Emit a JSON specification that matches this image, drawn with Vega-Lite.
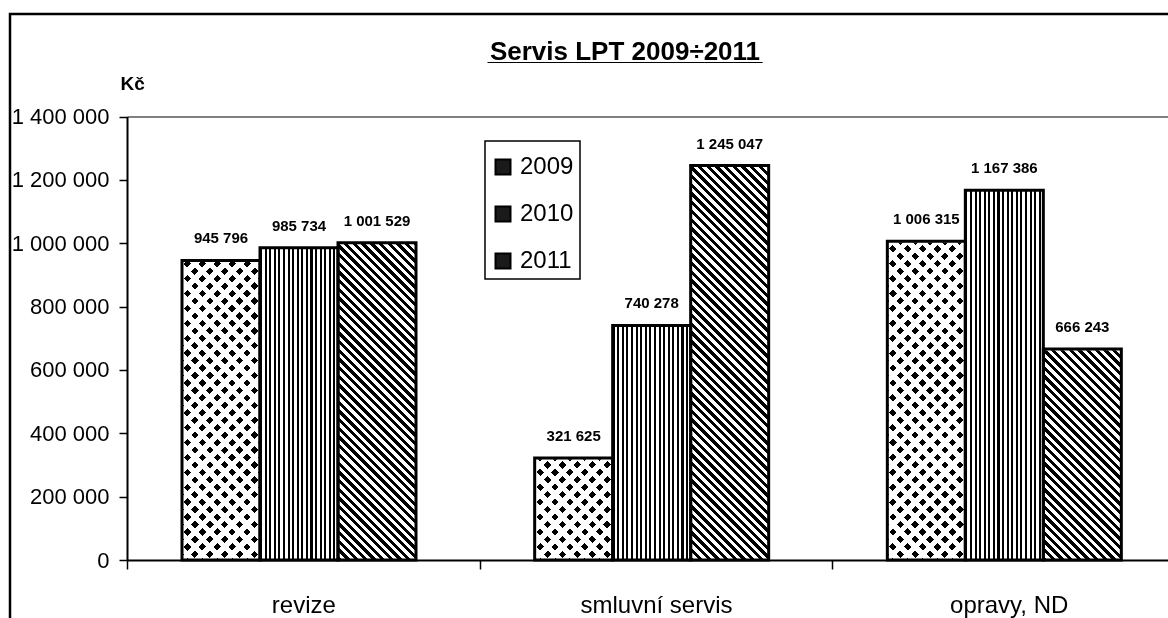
{
  "$schema": "https://vega.github.io/schema/vega-lite/v6.json",
  "width": 1170,
  "height": 611,
  "autosize": {"type": "none"},
  "padding": {"left": 10, "top": 14, "right": 0, "bottom": 0},
  "background": "white",
  "title": {
    "text": "Servis LPT 2009÷2011",
    "subtitle": "___________________",
    "font": "Liberation Sans",
    "fontSize": 26,
    "fontWeight": "bold",
    "color": "black",
    "subtitleFont": "Liberation Sans",
    "subtitleFontSize": 26,
    "subtitleFontWeight": "bold",
    "subtitleColor": "black",
    "subtitlePadding": -26,
    "anchor": "middle",
    "frame": "group",
    "offset": 0,
    "dx": 30,
    "dy": 51
  },
  "data": {
    "values": [
      {"cat": "revize", "year": "2009", "value": 945796},
      {"cat": "revize", "year": "2010", "value": 985734},
      {"cat": "revize", "year": "2011", "value": 1001529},
      {"cat": "smluvní servis", "year": "2009", "value": 321625},
      {"cat": "smluvní servis", "year": "2010", "value": 740278},
      {"cat": "smluvní servis", "year": "2011", "value": 1245047},
      {"cat": "opravy, ND", "year": "2009", "value": 1006315},
      {"cat": "opravy, ND", "year": "2010", "value": 1167386},
      {"cat": "opravy, ND", "year": "2011", "value": 666243}
    ]
  },
  "resolve": {"axis": {"x": "independent", "y": "independent"}},
  "layer": [
    {
      "transform": [{"filter": "datum.year === '2009'"}],
      "mark": {"type": "bar", "fill": {"gradient": "linear", "x1": 0, "y1": 1, "x2": 0.2006, "y2": -0.1406, "stops": [
        {"offset":0,"color":"#000"},{"offset":0.0143,"color":"#000"},{"offset":0.0143,"color":"#fff"},{"offset":0.0286,"color":"#fff"},
        {"offset":0.0286,"color":"#000"},{"offset":0.0429,"color":"#000"},{"offset":0.0429,"color":"#fff"},{"offset":0.0571,"color":"#fff"},
        {"offset":0.0571,"color":"#000"},{"offset":0.0714,"color":"#000"},{"offset":0.0714,"color":"#fff"},{"offset":0.0857,"color":"#fff"},
        {"offset":0.0857,"color":"#000"},{"offset":0.1,"color":"#000"},{"offset":0.1,"color":"#fff"},{"offset":0.1143,"color":"#fff"},
        {"offset":0.1143,"color":"#000"},{"offset":0.1286,"color":"#000"},{"offset":0.1286,"color":"#fff"},{"offset":0.1429,"color":"#fff"},
        {"offset":0.1429,"color":"#000"},{"offset":0.1571,"color":"#000"},{"offset":0.1571,"color":"#fff"},{"offset":0.1714,"color":"#fff"},
        {"offset":0.1714,"color":"#000"},{"offset":0.1857,"color":"#000"},{"offset":0.1857,"color":"#fff"},{"offset":0.2,"color":"#fff"},
        {"offset":0.2,"color":"#000"},{"offset":0.2143,"color":"#000"},{"offset":0.2143,"color":"#fff"},{"offset":0.2286,"color":"#fff"},
        {"offset":0.2286,"color":"#000"},{"offset":0.2429,"color":"#000"},{"offset":0.2429,"color":"#fff"},{"offset":0.2571,"color":"#fff"},
        {"offset":0.2571,"color":"#000"},{"offset":0.2714,"color":"#000"},{"offset":0.2714,"color":"#fff"},{"offset":0.2857,"color":"#fff"},
        {"offset":0.2857,"color":"#000"},{"offset":0.3,"color":"#000"},{"offset":0.3,"color":"#fff"},{"offset":0.3143,"color":"#fff"},
        {"offset":0.3143,"color":"#000"},{"offset":0.3286,"color":"#000"},{"offset":0.3286,"color":"#fff"},{"offset":0.3429,"color":"#fff"},
        {"offset":0.3429,"color":"#000"},{"offset":0.3571,"color":"#000"},{"offset":0.3571,"color":"#fff"},{"offset":0.3714,"color":"#fff"},
        {"offset":0.3714,"color":"#000"},{"offset":0.3857,"color":"#000"},{"offset":0.3857,"color":"#fff"},{"offset":0.4,"color":"#fff"},
        {"offset":0.4,"color":"#000"},{"offset":0.4143,"color":"#000"},{"offset":0.4143,"color":"#fff"},{"offset":0.4286,"color":"#fff"},
        {"offset":0.4286,"color":"#000"},{"offset":0.4429,"color":"#000"},{"offset":0.4429,"color":"#fff"},{"offset":0.4571,"color":"#fff"},
        {"offset":0.4571,"color":"#000"},{"offset":0.4714,"color":"#000"},{"offset":0.4714,"color":"#fff"},{"offset":0.4857,"color":"#fff"},
        {"offset":0.4857,"color":"#000"},{"offset":0.5,"color":"#000"},{"offset":0.5,"color":"#fff"},{"offset":0.5143,"color":"#fff"},
        {"offset":0.5143,"color":"#000"},{"offset":0.5286,"color":"#000"},{"offset":0.5286,"color":"#fff"},{"offset":0.5429,"color":"#fff"},
        {"offset":0.5429,"color":"#000"},{"offset":0.5571,"color":"#000"},{"offset":0.5571,"color":"#fff"},{"offset":0.5714,"color":"#fff"},
        {"offset":0.5714,"color":"#000"},{"offset":0.5857,"color":"#000"},{"offset":0.5857,"color":"#fff"},{"offset":0.6,"color":"#fff"},
        {"offset":0.6,"color":"#000"},{"offset":0.6143,"color":"#000"},{"offset":0.6143,"color":"#fff"},{"offset":0.6286,"color":"#fff"},
        {"offset":0.6286,"color":"#000"},{"offset":0.6429,"color":"#000"},{"offset":0.6429,"color":"#fff"},{"offset":0.6571,"color":"#fff"},
        {"offset":0.6571,"color":"#000"},{"offset":0.6714,"color":"#000"},{"offset":0.6714,"color":"#fff"},{"offset":0.6857,"color":"#fff"},
        {"offset":0.6857,"color":"#000"},{"offset":0.7,"color":"#000"},{"offset":0.7,"color":"#fff"},{"offset":0.7143,"color":"#fff"},
        {"offset":0.7143,"color":"#000"},{"offset":0.7286,"color":"#000"},{"offset":0.7286,"color":"#fff"},{"offset":0.7429,"color":"#fff"},
        {"offset":0.7429,"color":"#000"},{"offset":0.7571,"color":"#000"},{"offset":0.7571,"color":"#fff"},{"offset":0.7714,"color":"#fff"},
        {"offset":0.7714,"color":"#000"},{"offset":0.7857,"color":"#000"},{"offset":0.7857,"color":"#fff"},{"offset":0.8,"color":"#fff"},
        {"offset":0.8,"color":"#000"},{"offset":0.8143,"color":"#000"},{"offset":0.8143,"color":"#fff"},{"offset":0.8286,"color":"#fff"},
        {"offset":0.8286,"color":"#000"},{"offset":0.8429,"color":"#000"},{"offset":0.8429,"color":"#fff"},{"offset":0.8571,"color":"#fff"},
        {"offset":0.8571,"color":"#000"},{"offset":0.8714,"color":"#000"},{"offset":0.8714,"color":"#fff"},{"offset":0.8857,"color":"#fff"},
        {"offset":0.8857,"color":"#000"},{"offset":0.9,"color":"#000"},{"offset":0.9,"color":"#fff"},{"offset":0.9143,"color":"#fff"},
        {"offset":0.9143,"color":"#000"},{"offset":0.9286,"color":"#000"},{"offset":0.9286,"color":"#fff"},{"offset":0.9429,"color":"#fff"},
        {"offset":0.9429,"color":"#000"},{"offset":0.9571,"color":"#000"},{"offset":0.9571,"color":"#fff"},{"offset":0.9714,"color":"#fff"},
        {"offset":0.9714,"color":"#000"},{"offset":0.9857,"color":"#000"},{"offset":0.9857,"color":"#fff"},{"offset":1,"color":"#fff"}
      ]}},
      "encoding": {
        "x": {
          "field": "cat", "type": "nominal", "sort": null,
          "scale": {"domain": ["revize", "smluvní servis", "opravy, ND"], "range": [117, 1175], "paddingInner": 0, "paddingOuter": 0},
          "axis": {
            "orient": "bottom", "offset": -65, "title": null, "labelAngle": 0,
            "tickBand": "extent", "tickSize": 9, "tickWidth": 1.5, "tickColor": "black",
            "domainColor": "black", "domainWidth": 2,
            "labelFontSize": 24, "labelColor": "black", "labelBaseline": "alphabetic", "labelPadding": 43,
            "zindex": 1
          }
        },
        "xOffset": {"field": "year", "type": "nominal", "scale": {"domain": ["2009", "2010", "2011"], "paddingInner": 0, "paddingOuter": 0.7607, "align": 0.4635}},
        "y": {
          "datum": 1400000, "type": "quantitative",
          "scale": {"domain": [0, 1400000], "range": [546, 102.5], "nice": false, "zero": true},
          "axis": null
        },
        "y2": {"datum": 0}
      }
    },
    {
      "transform": [{"filter": "datum.year === '2009'"}],
      "mark": {"type": "bar", "blend": "screen", "fill": {"gradient": "linear", "x1": 0, "y1": 0, "x2": 0.2006, "y2": 1.1406, "stops": [
        {"offset":0,"color":"#000"},{"offset":0.0143,"color":"#000"},{"offset":0.0143,"color":"#fff"},{"offset":0.0286,"color":"#fff"},
        {"offset":0.0286,"color":"#000"},{"offset":0.0429,"color":"#000"},{"offset":0.0429,"color":"#fff"},{"offset":0.0571,"color":"#fff"},
        {"offset":0.0571,"color":"#000"},{"offset":0.0714,"color":"#000"},{"offset":0.0714,"color":"#fff"},{"offset":0.0857,"color":"#fff"},
        {"offset":0.0857,"color":"#000"},{"offset":0.1,"color":"#000"},{"offset":0.1,"color":"#fff"},{"offset":0.1143,"color":"#fff"},
        {"offset":0.1143,"color":"#000"},{"offset":0.1286,"color":"#000"},{"offset":0.1286,"color":"#fff"},{"offset":0.1429,"color":"#fff"},
        {"offset":0.1429,"color":"#000"},{"offset":0.1571,"color":"#000"},{"offset":0.1571,"color":"#fff"},{"offset":0.1714,"color":"#fff"},
        {"offset":0.1714,"color":"#000"},{"offset":0.1857,"color":"#000"},{"offset":0.1857,"color":"#fff"},{"offset":0.2,"color":"#fff"},
        {"offset":0.2,"color":"#000"},{"offset":0.2143,"color":"#000"},{"offset":0.2143,"color":"#fff"},{"offset":0.2286,"color":"#fff"},
        {"offset":0.2286,"color":"#000"},{"offset":0.2429,"color":"#000"},{"offset":0.2429,"color":"#fff"},{"offset":0.2571,"color":"#fff"},
        {"offset":0.2571,"color":"#000"},{"offset":0.2714,"color":"#000"},{"offset":0.2714,"color":"#fff"},{"offset":0.2857,"color":"#fff"},
        {"offset":0.2857,"color":"#000"},{"offset":0.3,"color":"#000"},{"offset":0.3,"color":"#fff"},{"offset":0.3143,"color":"#fff"},
        {"offset":0.3143,"color":"#000"},{"offset":0.3286,"color":"#000"},{"offset":0.3286,"color":"#fff"},{"offset":0.3429,"color":"#fff"},
        {"offset":0.3429,"color":"#000"},{"offset":0.3571,"color":"#000"},{"offset":0.3571,"color":"#fff"},{"offset":0.3714,"color":"#fff"},
        {"offset":0.3714,"color":"#000"},{"offset":0.3857,"color":"#000"},{"offset":0.3857,"color":"#fff"},{"offset":0.4,"color":"#fff"},
        {"offset":0.4,"color":"#000"},{"offset":0.4143,"color":"#000"},{"offset":0.4143,"color":"#fff"},{"offset":0.4286,"color":"#fff"},
        {"offset":0.4286,"color":"#000"},{"offset":0.4429,"color":"#000"},{"offset":0.4429,"color":"#fff"},{"offset":0.4571,"color":"#fff"},
        {"offset":0.4571,"color":"#000"},{"offset":0.4714,"color":"#000"},{"offset":0.4714,"color":"#fff"},{"offset":0.4857,"color":"#fff"},
        {"offset":0.4857,"color":"#000"},{"offset":0.5,"color":"#000"},{"offset":0.5,"color":"#fff"},{"offset":0.5143,"color":"#fff"},
        {"offset":0.5143,"color":"#000"},{"offset":0.5286,"color":"#000"},{"offset":0.5286,"color":"#fff"},{"offset":0.5429,"color":"#fff"},
        {"offset":0.5429,"color":"#000"},{"offset":0.5571,"color":"#000"},{"offset":0.5571,"color":"#fff"},{"offset":0.5714,"color":"#fff"},
        {"offset":0.5714,"color":"#000"},{"offset":0.5857,"color":"#000"},{"offset":0.5857,"color":"#fff"},{"offset":0.6,"color":"#fff"},
        {"offset":0.6,"color":"#000"},{"offset":0.6143,"color":"#000"},{"offset":0.6143,"color":"#fff"},{"offset":0.6286,"color":"#fff"},
        {"offset":0.6286,"color":"#000"},{"offset":0.6429,"color":"#000"},{"offset":0.6429,"color":"#fff"},{"offset":0.6571,"color":"#fff"},
        {"offset":0.6571,"color":"#000"},{"offset":0.6714,"color":"#000"},{"offset":0.6714,"color":"#fff"},{"offset":0.6857,"color":"#fff"},
        {"offset":0.6857,"color":"#000"},{"offset":0.7,"color":"#000"},{"offset":0.7,"color":"#fff"},{"offset":0.7143,"color":"#fff"},
        {"offset":0.7143,"color":"#000"},{"offset":0.7286,"color":"#000"},{"offset":0.7286,"color":"#fff"},{"offset":0.7429,"color":"#fff"},
        {"offset":0.7429,"color":"#000"},{"offset":0.7571,"color":"#000"},{"offset":0.7571,"color":"#fff"},{"offset":0.7714,"color":"#fff"},
        {"offset":0.7714,"color":"#000"},{"offset":0.7857,"color":"#000"},{"offset":0.7857,"color":"#fff"},{"offset":0.8,"color":"#fff"},
        {"offset":0.8,"color":"#000"},{"offset":0.8143,"color":"#000"},{"offset":0.8143,"color":"#fff"},{"offset":0.8286,"color":"#fff"},
        {"offset":0.8286,"color":"#000"},{"offset":0.8429,"color":"#000"},{"offset":0.8429,"color":"#fff"},{"offset":0.8571,"color":"#fff"},
        {"offset":0.8571,"color":"#000"},{"offset":0.8714,"color":"#000"},{"offset":0.8714,"color":"#fff"},{"offset":0.8857,"color":"#fff"},
        {"offset":0.8857,"color":"#000"},{"offset":0.9,"color":"#000"},{"offset":0.9,"color":"#fff"},{"offset":0.9143,"color":"#fff"},
        {"offset":0.9143,"color":"#000"},{"offset":0.9286,"color":"#000"},{"offset":0.9286,"color":"#fff"},{"offset":0.9429,"color":"#fff"},
        {"offset":0.9429,"color":"#000"},{"offset":0.9571,"color":"#000"},{"offset":0.9571,"color":"#fff"},{"offset":0.9714,"color":"#fff"},
        {"offset":0.9714,"color":"#000"},{"offset":0.9857,"color":"#000"},{"offset":0.9857,"color":"#fff"},{"offset":1,"color":"#fff"}
      ]}},
      "encoding": {
        "x": {"field": "cat", "type": "nominal", "sort": null, "axis": null},
        "xOffset": {"field": "year", "type": "nominal"},
        "y": {"datum": 1400000, "type": "quantitative", "axis": null},
        "y2": {"datum": 0}
      }
    },
    {
      "transform": [{"filter": "datum.year === '2011'"}],
      "mark": {"type": "bar", "fill": {"gradient": "linear", "x1": 0, "y1": 1, "x2": 0.2006, "y2": -0.1406, "stops": [
        {"offset":0,"color":"#000"},{"offset":0.0083,"color":"#000"},{"offset":0.0083,"color":"#fff"},{"offset":0.0167,"color":"#fff"},
        {"offset":0.0167,"color":"#000"},{"offset":0.025,"color":"#000"},{"offset":0.025,"color":"#fff"},{"offset":0.0333,"color":"#fff"},
        {"offset":0.0333,"color":"#000"},{"offset":0.0417,"color":"#000"},{"offset":0.0417,"color":"#fff"},{"offset":0.05,"color":"#fff"},
        {"offset":0.05,"color":"#000"},{"offset":0.0583,"color":"#000"},{"offset":0.0583,"color":"#fff"},{"offset":0.0667,"color":"#fff"},
        {"offset":0.0667,"color":"#000"},{"offset":0.075,"color":"#000"},{"offset":0.075,"color":"#fff"},{"offset":0.0833,"color":"#fff"},
        {"offset":0.0833,"color":"#000"},{"offset":0.0917,"color":"#000"},{"offset":0.0917,"color":"#fff"},{"offset":0.1,"color":"#fff"},
        {"offset":0.1,"color":"#000"},{"offset":0.1083,"color":"#000"},{"offset":0.1083,"color":"#fff"},{"offset":0.1167,"color":"#fff"},
        {"offset":0.1167,"color":"#000"},{"offset":0.125,"color":"#000"},{"offset":0.125,"color":"#fff"},{"offset":0.1333,"color":"#fff"},
        {"offset":0.1333,"color":"#000"},{"offset":0.1417,"color":"#000"},{"offset":0.1417,"color":"#fff"},{"offset":0.15,"color":"#fff"},
        {"offset":0.15,"color":"#000"},{"offset":0.1583,"color":"#000"},{"offset":0.1583,"color":"#fff"},{"offset":0.1667,"color":"#fff"},
        {"offset":0.1667,"color":"#000"},{"offset":0.175,"color":"#000"},{"offset":0.175,"color":"#fff"},{"offset":0.1833,"color":"#fff"},
        {"offset":0.1833,"color":"#000"},{"offset":0.1917,"color":"#000"},{"offset":0.1917,"color":"#fff"},{"offset":0.2,"color":"#fff"},
        {"offset":0.2,"color":"#000"},{"offset":0.2083,"color":"#000"},{"offset":0.2083,"color":"#fff"},{"offset":0.2167,"color":"#fff"},
        {"offset":0.2167,"color":"#000"},{"offset":0.225,"color":"#000"},{"offset":0.225,"color":"#fff"},{"offset":0.2333,"color":"#fff"},
        {"offset":0.2333,"color":"#000"},{"offset":0.2417,"color":"#000"},{"offset":0.2417,"color":"#fff"},{"offset":0.25,"color":"#fff"},
        {"offset":0.25,"color":"#000"},{"offset":0.2583,"color":"#000"},{"offset":0.2583,"color":"#fff"},{"offset":0.2667,"color":"#fff"},
        {"offset":0.2667,"color":"#000"},{"offset":0.275,"color":"#000"},{"offset":0.275,"color":"#fff"},{"offset":0.2833,"color":"#fff"},
        {"offset":0.2833,"color":"#000"},{"offset":0.2917,"color":"#000"},{"offset":0.2917,"color":"#fff"},{"offset":0.3,"color":"#fff"},
        {"offset":0.3,"color":"#000"},{"offset":0.3083,"color":"#000"},{"offset":0.3083,"color":"#fff"},{"offset":0.3167,"color":"#fff"},
        {"offset":0.3167,"color":"#000"},{"offset":0.325,"color":"#000"},{"offset":0.325,"color":"#fff"},{"offset":0.3333,"color":"#fff"},
        {"offset":0.3333,"color":"#000"},{"offset":0.3417,"color":"#000"},{"offset":0.3417,"color":"#fff"},{"offset":0.35,"color":"#fff"},
        {"offset":0.35,"color":"#000"},{"offset":0.3583,"color":"#000"},{"offset":0.3583,"color":"#fff"},{"offset":0.3667,"color":"#fff"},
        {"offset":0.3667,"color":"#000"},{"offset":0.375,"color":"#000"},{"offset":0.375,"color":"#fff"},{"offset":0.3833,"color":"#fff"},
        {"offset":0.3833,"color":"#000"},{"offset":0.3917,"color":"#000"},{"offset":0.3917,"color":"#fff"},{"offset":0.4,"color":"#fff"},
        {"offset":0.4,"color":"#000"},{"offset":0.4083,"color":"#000"},{"offset":0.4083,"color":"#fff"},{"offset":0.4167,"color":"#fff"},
        {"offset":0.4167,"color":"#000"},{"offset":0.425,"color":"#000"},{"offset":0.425,"color":"#fff"},{"offset":0.4333,"color":"#fff"},
        {"offset":0.4333,"color":"#000"},{"offset":0.4417,"color":"#000"},{"offset":0.4417,"color":"#fff"},{"offset":0.45,"color":"#fff"},
        {"offset":0.45,"color":"#000"},{"offset":0.4583,"color":"#000"},{"offset":0.4583,"color":"#fff"},{"offset":0.4667,"color":"#fff"},
        {"offset":0.4667,"color":"#000"},{"offset":0.475,"color":"#000"},{"offset":0.475,"color":"#fff"},{"offset":0.4833,"color":"#fff"},
        {"offset":0.4833,"color":"#000"},{"offset":0.4917,"color":"#000"},{"offset":0.4917,"color":"#fff"},{"offset":0.5,"color":"#fff"},
        {"offset":0.5,"color":"#000"},{"offset":0.5083,"color":"#000"},{"offset":0.5083,"color":"#fff"},{"offset":0.5167,"color":"#fff"},
        {"offset":0.5167,"color":"#000"},{"offset":0.525,"color":"#000"},{"offset":0.525,"color":"#fff"},{"offset":0.5333,"color":"#fff"},
        {"offset":0.5333,"color":"#000"},{"offset":0.5417,"color":"#000"},{"offset":0.5417,"color":"#fff"},{"offset":0.55,"color":"#fff"},
        {"offset":0.55,"color":"#000"},{"offset":0.5583,"color":"#000"},{"offset":0.5583,"color":"#fff"},{"offset":0.5667,"color":"#fff"},
        {"offset":0.5667,"color":"#000"},{"offset":0.575,"color":"#000"},{"offset":0.575,"color":"#fff"},{"offset":0.5833,"color":"#fff"},
        {"offset":0.5833,"color":"#000"},{"offset":0.5917,"color":"#000"},{"offset":0.5917,"color":"#fff"},{"offset":0.6,"color":"#fff"},
        {"offset":0.6,"color":"#000"},{"offset":0.6083,"color":"#000"},{"offset":0.6083,"color":"#fff"},{"offset":0.6167,"color":"#fff"},
        {"offset":0.6167,"color":"#000"},{"offset":0.625,"color":"#000"},{"offset":0.625,"color":"#fff"},{"offset":0.6333,"color":"#fff"},
        {"offset":0.6333,"color":"#000"},{"offset":0.6417,"color":"#000"},{"offset":0.6417,"color":"#fff"},{"offset":0.65,"color":"#fff"},
        {"offset":0.65,"color":"#000"},{"offset":0.6583,"color":"#000"},{"offset":0.6583,"color":"#fff"},{"offset":0.6667,"color":"#fff"},
        {"offset":0.6667,"color":"#000"},{"offset":0.675,"color":"#000"},{"offset":0.675,"color":"#fff"},{"offset":0.6833,"color":"#fff"},
        {"offset":0.6833,"color":"#000"},{"offset":0.6917,"color":"#000"},{"offset":0.6917,"color":"#fff"},{"offset":0.7,"color":"#fff"},
        {"offset":0.7,"color":"#000"},{"offset":0.7083,"color":"#000"},{"offset":0.7083,"color":"#fff"},{"offset":0.7167,"color":"#fff"},
        {"offset":0.7167,"color":"#000"},{"offset":0.725,"color":"#000"},{"offset":0.725,"color":"#fff"},{"offset":0.7333,"color":"#fff"},
        {"offset":0.7333,"color":"#000"},{"offset":0.7417,"color":"#000"},{"offset":0.7417,"color":"#fff"},{"offset":0.75,"color":"#fff"},
        {"offset":0.75,"color":"#000"},{"offset":0.7583,"color":"#000"},{"offset":0.7583,"color":"#fff"},{"offset":0.7667,"color":"#fff"},
        {"offset":0.7667,"color":"#000"},{"offset":0.775,"color":"#000"},{"offset":0.775,"color":"#fff"},{"offset":0.7833,"color":"#fff"},
        {"offset":0.7833,"color":"#000"},{"offset":0.7917,"color":"#000"},{"offset":0.7917,"color":"#fff"},{"offset":0.8,"color":"#fff"},
        {"offset":0.8,"color":"#000"},{"offset":0.8083,"color":"#000"},{"offset":0.8083,"color":"#fff"},{"offset":0.8167,"color":"#fff"},
        {"offset":0.8167,"color":"#000"},{"offset":0.825,"color":"#000"},{"offset":0.825,"color":"#fff"},{"offset":0.8333,"color":"#fff"},
        {"offset":0.8333,"color":"#000"},{"offset":0.8417,"color":"#000"},{"offset":0.8417,"color":"#fff"},{"offset":0.85,"color":"#fff"},
        {"offset":0.85,"color":"#000"},{"offset":0.8583,"color":"#000"},{"offset":0.8583,"color":"#fff"},{"offset":0.8667,"color":"#fff"},
        {"offset":0.8667,"color":"#000"},{"offset":0.875,"color":"#000"},{"offset":0.875,"color":"#fff"},{"offset":0.8833,"color":"#fff"},
        {"offset":0.8833,"color":"#000"},{"offset":0.8917,"color":"#000"},{"offset":0.8917,"color":"#fff"},{"offset":0.9,"color":"#fff"},
        {"offset":0.9,"color":"#000"},{"offset":0.9083,"color":"#000"},{"offset":0.9083,"color":"#fff"},{"offset":0.9167,"color":"#fff"},
        {"offset":0.9167,"color":"#000"},{"offset":0.925,"color":"#000"},{"offset":0.925,"color":"#fff"},{"offset":0.9333,"color":"#fff"},
        {"offset":0.9333,"color":"#000"},{"offset":0.9417,"color":"#000"},{"offset":0.9417,"color":"#fff"},{"offset":0.95,"color":"#fff"},
        {"offset":0.95,"color":"#000"},{"offset":0.9583,"color":"#000"},{"offset":0.9583,"color":"#fff"},{"offset":0.9667,"color":"#fff"},
        {"offset":0.9667,"color":"#000"},{"offset":0.975,"color":"#000"},{"offset":0.975,"color":"#fff"},{"offset":0.9833,"color":"#fff"},
        {"offset":0.9833,"color":"#000"},{"offset":0.9917,"color":"#000"},{"offset":0.9917,"color":"#fff"},{"offset":1,"color":"#fff"}
      ]}},
      "encoding": {
        "x": {"field": "cat", "type": "nominal", "sort": null, "axis": null},
        "xOffset": {"field": "year", "type": "nominal"},
        "y": {"datum": 1400000, "type": "quantitative", "axis": null},
        "y2": {"datum": 0}
      }
    },
    {
      "transform": [{"filter": "datum.year !== '2010'"}],
      "mark": {"type": "bar", "fill": "white", "stroke": "white", "strokeWidth": 2.5},
      "encoding": {
        "x": {"field": "cat", "type": "nominal", "sort": null, "axis": null},
        "xOffset": {"field": "year", "type": "nominal"},
        "y": {"field": "value", "type": "quantitative", "stack": null, "axis": null},
        "y2": {"datum": 1400000}
      }
    },
    {
      "mark": {"type": "bar", "stroke": "black", "strokeWidth": 3},
      "encoding": {
        "x": {"field": "cat", "type": "nominal", "sort": null, "axis": null},
        "xOffset": {"field": "year", "type": "nominal"},
        "y": {
          "field": "value", "type": "quantitative", "stack": null,
          "axis": {
            "orient": "left", "offset": -117, "grid": false,
            "values": [0, 200000, 400000, 600000, 800000, 1000000, 1200000, 1400000],
            "format": ",d", "labelFontSize": 22, "labelColor": "black", "labelPadding": 10,
            "tickSize": 8, "tickWidth": 1.5, "tickColor": "black",
            "domainColor": "black", "domainWidth": 2,
            "title": "Kč", "titleAngle": 0, "titleFontSize": 19, "titleFontWeight": "bold", "titleColor": "black",
            "titleAlign": "left", "titleBaseline": "alphabetic", "titleX": -7, "titleY": 75,
            "zindex": 1
          }
        },
        "fill": {
          "field": "year", "type": "nominal",
          "scale": {"domain": ["2009", "2010", "2011"], "range": ["#1a1a1a", "#1a1a1a", "#1a1a1a"]},
          "legend": {
            "orient": "none", "legendX": 475, "legendY": 127,
            "title": " ", "titleFontSize": 8, "titlePadding": 0,
            "symbolType": "square", "symbolSize": 225, "symbolStrokeColor": "black", "symbolStrokeWidth": 2,
            "labelFontSize": 24, "labelColor": "black", "labelOffset": 5,
            "padding": 6, "rowPadding": 23,
            "strokeColor": "black", "fillColor": "white"
          },
          "condition": [
            {"test": "datum.year === '2010'", "value": {"gradient": "linear", "x1": 0, "y1": 0, "x2": 1, "y2": 0, "stops": [
              {"offset":0,"color":"#000"},{"offset":0.0265,"color":"#000"},{"offset":0.0265,"color":"#fff"},{"offset":0.0588,"color":"#fff"},
              {"offset":0.0588,"color":"#000"},{"offset":0.0853,"color":"#000"},{"offset":0.0853,"color":"#fff"},{"offset":0.1176,"color":"#fff"},
              {"offset":0.1176,"color":"#000"},{"offset":0.1441,"color":"#000"},{"offset":0.1441,"color":"#fff"},{"offset":0.1765,"color":"#fff"},
              {"offset":0.1765,"color":"#000"},{"offset":0.2029,"color":"#000"},{"offset":0.2029,"color":"#fff"},{"offset":0.2353,"color":"#fff"},
              {"offset":0.2353,"color":"#000"},{"offset":0.2618,"color":"#000"},{"offset":0.2618,"color":"#fff"},{"offset":0.2941,"color":"#fff"},
              {"offset":0.2941,"color":"#000"},{"offset":0.3206,"color":"#000"},{"offset":0.3206,"color":"#fff"},{"offset":0.3529,"color":"#fff"},
              {"offset":0.3529,"color":"#000"},{"offset":0.3794,"color":"#000"},{"offset":0.3794,"color":"#fff"},{"offset":0.4118,"color":"#fff"},
              {"offset":0.4118,"color":"#000"},{"offset":0.4382,"color":"#000"},{"offset":0.4382,"color":"#fff"},{"offset":0.4706,"color":"#fff"},
              {"offset":0.4706,"color":"#000"},{"offset":0.4971,"color":"#000"},{"offset":0.4971,"color":"#fff"},{"offset":0.5294,"color":"#fff"},
              {"offset":0.5294,"color":"#000"},{"offset":0.5559,"color":"#000"},{"offset":0.5559,"color":"#fff"},{"offset":0.5882,"color":"#fff"},
              {"offset":0.5882,"color":"#000"},{"offset":0.6147,"color":"#000"},{"offset":0.6147,"color":"#fff"},{"offset":0.6471,"color":"#fff"},
              {"offset":0.6471,"color":"#000"},{"offset":0.6735,"color":"#000"},{"offset":0.6735,"color":"#fff"},{"offset":0.7059,"color":"#fff"},
              {"offset":0.7059,"color":"#000"},{"offset":0.7324,"color":"#000"},{"offset":0.7324,"color":"#fff"},{"offset":0.7647,"color":"#fff"},
              {"offset":0.7647,"color":"#000"},{"offset":0.7912,"color":"#000"},{"offset":0.7912,"color":"#fff"},{"offset":0.8235,"color":"#fff"},
              {"offset":0.8235,"color":"#000"},{"offset":0.85,"color":"#000"},{"offset":0.85,"color":"#fff"},{"offset":0.8824,"color":"#fff"},
              {"offset":0.8824,"color":"#000"},{"offset":0.9088,"color":"#000"},{"offset":0.9088,"color":"#fff"},{"offset":0.9412,"color":"#fff"},
              {"offset":0.9412,"color":"#000"},{"offset":0.9676,"color":"#000"},{"offset":0.9676,"color":"#fff"},{"offset":1,"color":"#fff"}
            ]}},
            {"test": "datum.year !== '2010'", "value": "transparent"}
          ]
        }
      }
    },
    {
      "mark": {"type": "text", "fontWeight": "bold", "fontSize": 15, "color": "black", "baseline": "alphabetic", "dy": -17},
      "encoding": {
        "x": {
          "field": "cat", "type": "nominal", "sort": null,
          "axis": {
            "orient": "top", "offset": -102.5, "title": null, "labels": false, "ticks": false,
            "domainColor": "#808080", "domainWidth": 2, "zindex": 1
          }
        },
        "xOffset": {"field": "year", "type": "nominal"},
        "y": {"field": "value", "type": "quantitative", "stack": null, "axis": null},
        "text": {"field": "value", "type": "quantitative", "format": ",d"}
      }
    }
  ],
  "config": {
    "font": "Liberation Sans",
    "view": {"stroke": "black", "strokeWidth": 2.5},
    "locale": {"number": {"decimal": ",", "thousands": " ", "grouping": [3], "currency": ["", " Kč"]}},
    "legend": {"strokeWidth": 1.5},
    "axis": {"labelColor": "black", "grid": false}
  }
}
